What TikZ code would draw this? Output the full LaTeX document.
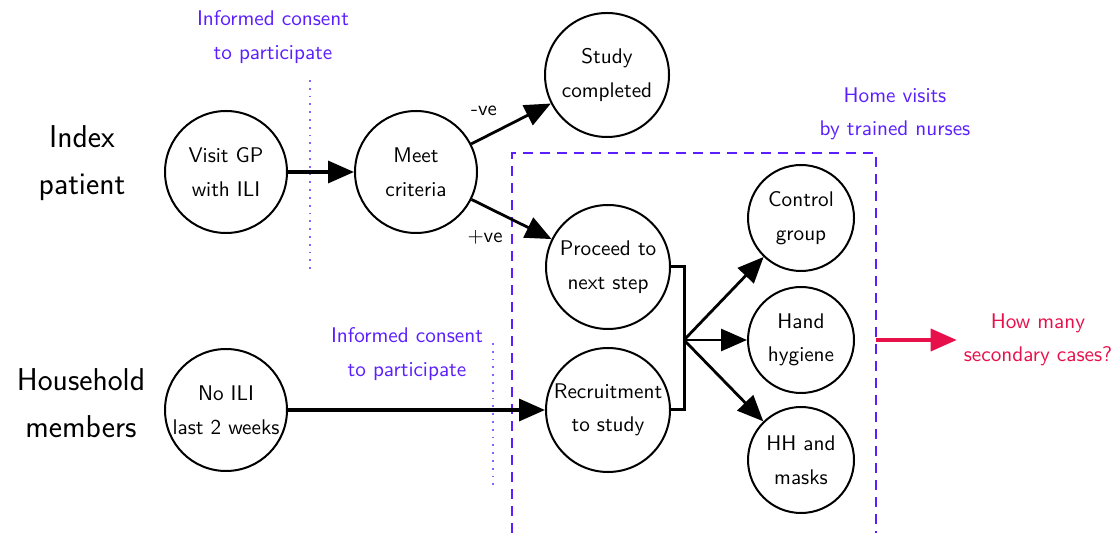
\documentclass[tikz,border=0pt]{standalone}
\usepackage{tikz}
\usetikzlibrary{arrows.meta}
\renewcommand{\familydefault}{\sfdefault}
\definecolor{hv}{HTML}{5B1FFF}
\definecolor{hr}{HTML}{E8104A}
\begin{document}
\begin{tikzpicture}[x=0.5pt,y=-0.5pt,
  circ/.style={circle,draw,line width=1pt,inner sep=0pt,align=center,
    font=\fontsize{10.6pt}{16.8pt}\selectfont},
  lbl/.style={align=center,font=\fontsize{15.8pt}{23.5pt}\selectfont},
  note/.style={align=center,text=hv,font=\fontsize{10.6pt}{16.8pt}\selectfont},
  edgelbl/.style={font=\fontsize{10.4pt}{12pt}\selectfont},
  arr/.style={line width=1.7pt,-{Triangle[length=13pt,width=11pt]}},
  darr/.style={line width=1.4pt,-{Triangle[length=13pt,width=11pt]}},
  dotline/.style={hv!70,line width=0.9pt,dash pattern=on 0.9pt off 3pt},
  dashline/.style={hv,line width=0.6pt,dash pattern=on 5pt off 3.5pt}]
\path[use as bounding box] (0,0) rectangle (1117,533);

\node[lbl] (idx) at (82,163) {Index\\patient};
\node[lbl] (hh) at (81,403) {Household\\members};

\node[circ,minimum size=61pt] (gp) at (226,172) {Visit GP\\with ILI};
\node[circ,minimum size=61pt] (meet) at (416,172) {Meet\\criteria};
\node[circ,minimum size=62pt] (done) at (607,75) {Study\\completed};
\node[circ,minimum size=62pt] (proc) at (608,267) {Proceed to\\next step};
\node[circ,minimum size=62pt] (rec) at (608,410) {Recruitment\\to study};
\node[circ,minimum size=61pt] (noili) at (226,410) {No ILI\\last 2 weeks};
\node[circ,minimum size=53pt] (ctrl) at (801,218) {Control\\group};
\node[circ,minimum size=53pt] (hand) at (801,340) {Hand\\hygiene};
\node[circ,minimum size=53pt] (mask) at (801,460) {HH and\\masks};

\node[note] (ic1) at (273,37) {Informed consent\\to participate};
\node[note] (ic2) at (407,354) {Informed consent\\to participate};
\node[note] (home) at (895,114) {Home visits\\by trained nurses};
\node[align=center,text=hr,font=\fontsize{10.6pt}{16.8pt}\selectfont] (how) at (1038,340) {How many\\secondary cases?};

\node[edgelbl] (neg) at (484,111) {-ve};
\node[edgelbl] (pos) at (485,237) {+ve};

\coordinate (d1a) at (310,80);
\coordinate (d1b) at (310,270);
\draw[dotline] (d1a) -- (d1b);
\coordinate (d2a) at (493,343);
\coordinate (d2b) at (493,487);
\draw[dotline] (d2a) -- (d2b);

\coordinate (bl) at (512,533);
\coordinate (tl) at (512,153);
\coordinate (tr) at (876,153);
\coordinate (br) at (876,533);
\draw[dashline] (bl) -- (tl) -- (tr) -- (br);

\draw[arr] (gp) -- (meet);
\draw[darr] (meet) -- (done);
\draw[darr] (meet) -- (proc);
\draw[arr] (noili) -- (rec);

\coordinate (j) at (684,340);
\draw[line width=1.5pt] (proc.east) -| (j) |- (rec.east);
\draw[darr] (j) -- (ctrl);
\draw[darr] (j) -- (hand);
\draw[darr] (j) -- (mask);

\coordinate (ra) at (876,340);
\draw[line width=1.7pt,hr,-{Triangle[length=13pt,width=11pt]}] (ra) -- (how.west);
\end{tikzpicture}
\end{document}
